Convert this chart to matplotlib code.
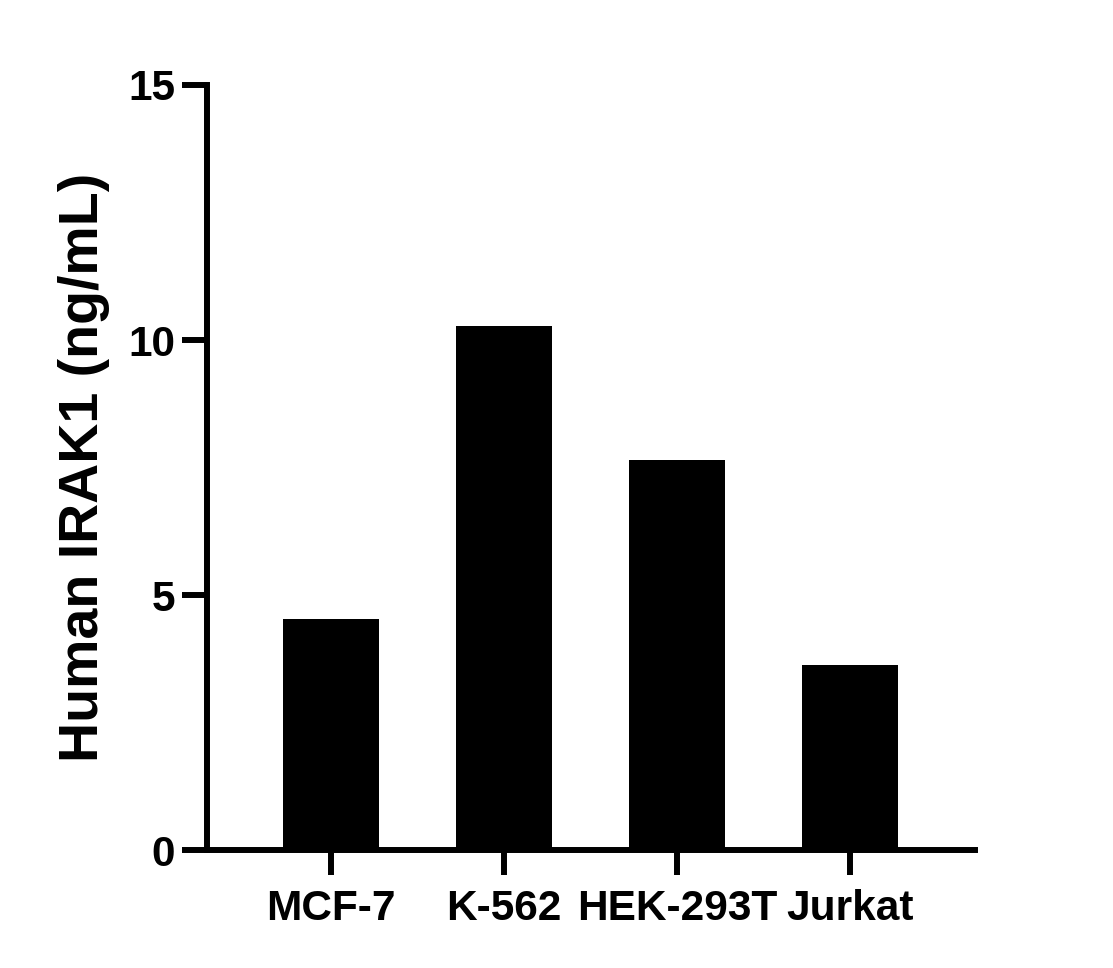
import matplotlib
matplotlib.use("Agg")
import matplotlib.pyplot as plt
import numpy as np

# values
cell_lines = ["MCF-7", "K-562", "HEK-293T", "Jurkat"]
irak1_ng_ml = [4.54, 10.28, 7.65, 3.64]
y_ticks = [0, 5, 10, 15]

plt.rcParams['font.family'] = ['Liberation Sans', 'DejaVu Sans']
plt.rcParams['font.weight'] = 'bold'

fig = plt.figure(figsize=(11.13, 9.68), dpi=100)
ax = fig.add_axes([0.186, 0.1214, 0.690, 0.7908])

x = np.arange(len(cell_lines))
ax.bar(x, irak1_ng_ml, width=0.555, color='black', edgecolor='none')

ax.set_xlim(-0.717, 3.723)
ax.set_ylim(0, 15)
ax.set_yticks(y_ticks)
ax.set_xticks(x)
ax.set_xticklabels(cell_lines)

for side in ['top', 'right']:
    ax.spines[side].set_visible(False)
for side in ['left', 'bottom']:
    ax.spines[side].set_linewidth(4.3)

ax.tick_params(axis='both', which='major', length=18, width=4.3,
               labelsize=30.5, direction='out')
ax.tick_params(axis='y', pad=5)
ax.tick_params(axis='x', pad=10)
for lab in ax.get_xticklabels() + ax.get_yticklabels():
    lab.set_fontweight('bold')

ax.set_ylabel("Human IRAK1 (ng/mL)", fontsize=40, fontweight='bold', labelpad=13)

fig.savefig("out.png", dpi=100)
